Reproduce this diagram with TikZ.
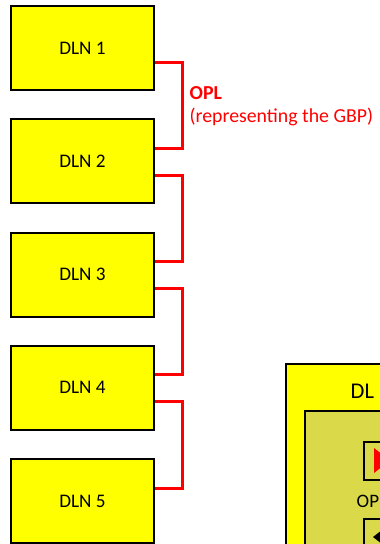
\documentclass[tikz,border=0pt]{standalone}
\usepackage{fontspec}
\setmainfont{Carlito}
\usetikzlibrary{calc}
\definecolor{dlnyellow}{RGB}{255,255,0}
\definecolor{olive}{RGB}{217,217,74}
\definecolor{oplred}{RGB}{255,0,0}
\tikzset{
  dlnbox/.style={draw=black, line width=2pt, fill=dlnyellow, minimum width=143pt,
    minimum height=84pt, inner sep=0pt, font=\fontsize{19.2}{23}\selectfont},
  opl/.style={draw=oplred, line width=3pt},
  lbl/.style={text=oplred, inner sep=0pt, font=\fontsize{19.8}{24}\selectfont}
}
\begin{document}
\begin{tikzpicture}[x=1pt, y=-1pt]
\useasboundingbox (0,0) rectangle (380,544);
\clip (0,0) rectangle (380,544);
\fill[white] (0,0) rectangle (380,544);

% chain of DLN boxes
\foreach \k/\t in {1/6, 2/119.25, 3/232.5, 4/345.75, 5/459}
  \node[dlnbox] (d\k) at (82.5,\t+42) {DLN \k};

% OPL links between neighbouring boxes
\foreach \a/\b in {1/2, 2/3, 3/4, 4/5}
  \draw[opl] ($(d\a.east)+(0,14)$) -- ++(27,0) |- ($(d\b.east)+(0,-13)$);

\node[lbl, anchor=base west] (oplname) at (189.5,99) {\textbf{OPL}};
\node[lbl, anchor=base west] (opldesc) at (189.5,122.5) {(representing the GBP)};

% detail view of one DLN
\node[draw=black, line width=2pt, fill=dlnyellow, anchor=north west,
  minimum width=140pt, minimum height=200pt, inner sep=0pt] (dlnbig) at (285,363) {};
\node[anchor=base west, inner sep=0pt, font=\fontsize{22.5}{27}\selectfont] (dltext) at (350.5,398) {DL};
\node[draw=black, line width=2pt, fill=olive, anchor=north west,
  minimum width=110pt, minimum height=160pt, inner sep=0pt] (inner) at (304,409.5) {};
\node[draw=black, line width=2pt, anchor=north west,
  minimum width=40pt, minimum height=38pt, inner sep=0pt] (port1) at (363,441) {};
\fill[oplred] (374,448) -- (374,473) -- (390,460.5) -- cycle;
\node[anchor=base west, inner sep=0pt, font=\fontsize{19}{23}\selectfont] (optext) at (356.5,507) {OP};
\node[draw=black, line width=2pt, anchor=north west,
  minimum width=40pt, minimum height=40pt, inner sep=0pt] (port2) at (363,517.5) {};
\fill[black] (373,537) -- (382,530) -- (382,544) -- cycle;
\end{tikzpicture}
\end{document}
